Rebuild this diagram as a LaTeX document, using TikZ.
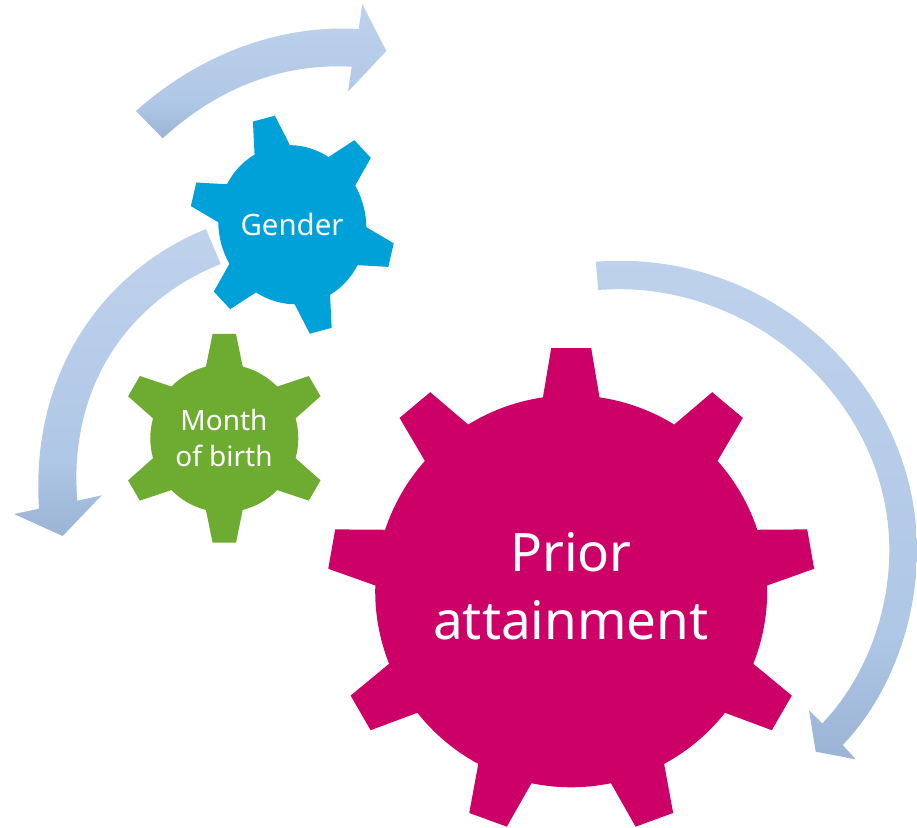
\documentclass[tikz,border=0pt]{standalone}
\usepackage{fontspec}
\setmainfont{Noto Sans}
\definecolor{priorred}{HTML}{CC0066}
\definecolor{genderblue}{HTML}{00A0D8}
\definecolor{monthgreen}{HTML}{6DAB31}
\definecolor{arrowtop}{HTML}{BFD2EC}
\definecolor{arrowmid}{HTML}{AFC7E6}
\definecolor{arrowlow}{HTML}{9BB3D4}
\pgfdeclareverticalshading{arrowshade}{100bp}{color(0bp)=(arrowlow); color(25bp)=(arrowlow); color(37bp)=(arrowmid); color(75bp)=(arrowtop); color(100bp)=(arrowtop)}
% #1 colour, #2 number of teeth, #3 foot radius, #4 tip radius, #5 foot half angle, #6 tip half angle
\newcommand{\gearwheel}[6]{
  \pgfmathsetmacro{\gearstep}{360 / #2}
  \fill[#1] (90 + #5:#3)
    \foreach \i in {1,...,#2} {
      -- (90 - \i * \gearstep + \gearstep + #6:#4)
      -- (90 - \i * \gearstep + \gearstep - #6:#4)
      -- (90 - \i * \gearstep + \gearstep - #5:#3)
      arc[start angle=90 - \i * \gearstep + \gearstep - #5, end angle=90 - \i * \gearstep + #5, radius=#3]
    } -- cycle;
}
\tikzset{
  arrowband/.style={shading=arrowshade},
  gearlabel/.style={text=white, align=center, inner sep=0pt},
}
\begin{document}
\begin{tikzpicture}[x=1pt, y=1pt]
  \useasboundingbox (0, 0) rectangle (917, -827);
  % arrows
  \shade[arrowband] (136, -111) .. controls (195, -58) and (275, -24) .. (358.7, -29)
    -- (362.3, -4) -- (386.3, -51) -- (348, -91.7) -- (351.7, -66.7)
    .. controls (285, -63) and (220, -86) .. (162.7, -138.3) -- cycle;
  \shade[arrowband] (206, -229) .. controls (105, -270) and (30, -370) .. (39, -508.7)
    -- (14, -514) -- (62.7, -536) -- (101.7, -495.3) -- (77.3, -500.7)
    .. controls (68, -385) and (130, -300) .. (220.7, -264) -- cycle;
  \shade[arrowband] (595.7, -261.7) .. controls (770, -248) and (917, -385) .. (917, -550)
    .. controls (917, -625) and (888, -698) .. (842.7, -745)
    -- (855.7, -759.3) -- (815.7, -751.7) -- (809, -710.3) -- (822.3, -723.3)
    .. controls (864, -680) and (889.3, -615) .. (889.3, -550)
    .. controls (889.3, -400) and (750, -278) .. (598.3, -290) -- cycle;
  % gears
  \begin{scope}[shift={(292.3, -224.7)}, rotate=15, xscale=0.92]
    \gearwheel{genderblue}{6}{80}{110.5}{14.4}{6.4}
  \end{scope}
  \begin{scope}[shift={(224.3, -438.3)}]
    \gearwheel{monthgreen}{6}{74}{105}{14.4}{6.4}
  \end{scope}
  \begin{scope}[shift={(571.2, -591.3)}]
    \gearwheel{priorred}{9}{196}{244}{8.3}{4.7}
  \end{scope}
  % labels
  \node[gearlabel, font=\fontsize{29.4}{36}\selectfont] (gender) at (292, -224) {Gender};
  \node[gearlabel, font=\fontsize{28}{36}\selectfont] (month) at (224, -438) {Month\\of birth};
  \node[gearlabel, font=\fontsize{53}{67.7}\selectfont] (prior) at (571, -586) {Prior\\attainment};
\end{tikzpicture}
\end{document}
